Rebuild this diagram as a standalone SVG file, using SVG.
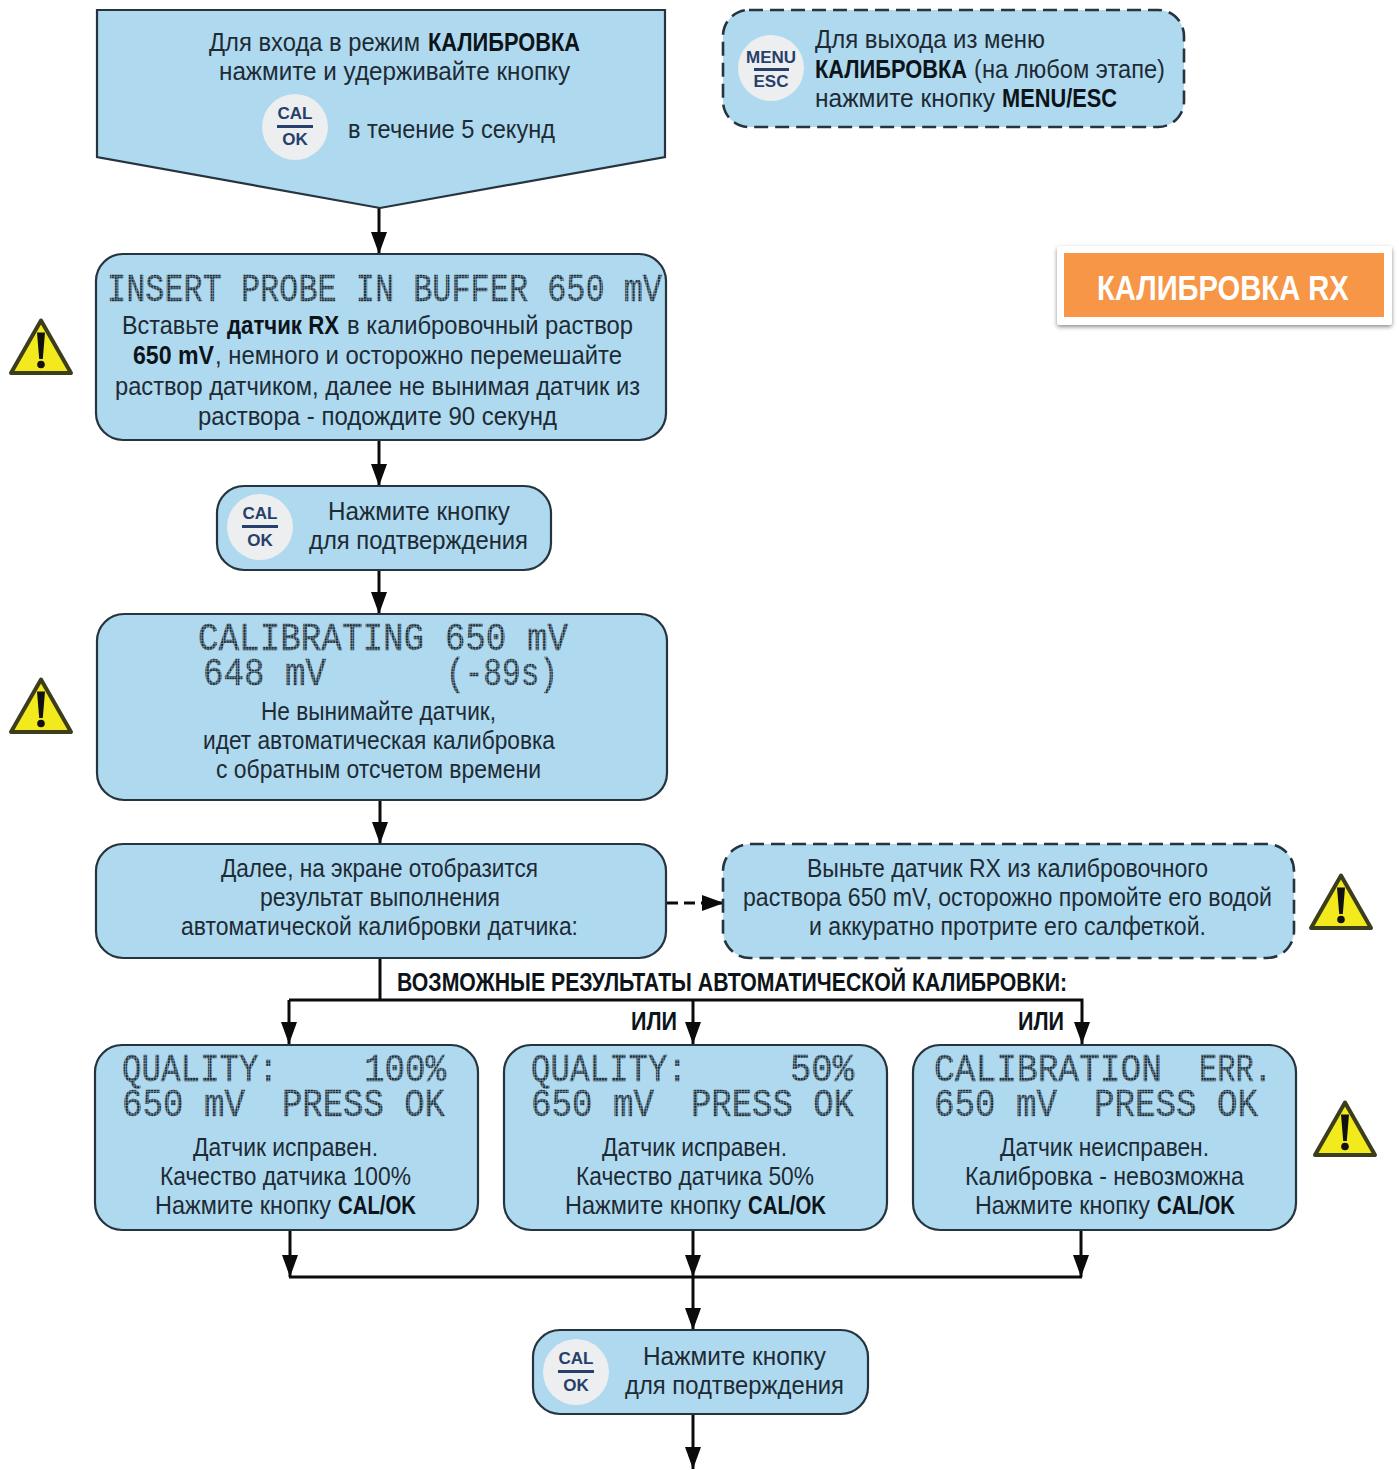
<svg xmlns="http://www.w3.org/2000/svg" width="1399" height="1470" viewBox="0 0 1399 1470">
<defs>
<style>
.n{fill:#afd9ef;stroke:#25343f;stroke-width:2.2}
.d{fill:#afd9ef;stroke:#25343f;stroke-width:2.6;stroke-dasharray:14 7}
text{font-family:"Liberation Sans",Arial,sans-serif;font-size:26px;fill:#1d2b35;white-space:pre}
.b{font-weight:700;fill:#0d1419}
.lcd{font-family:"Liberation Mono","Courier New",monospace;font-size:38px;fill:url(#dots);stroke:url(#dots);stroke-width:.4}
.btn{fill:#eceeef}
.cal{font-size:17px;font-weight:700;fill:#26406b;text-anchor:middle}
.c{fill:none;stroke:#0b0b0b;stroke-width:3}
</style>
<pattern id="dots" width="2.8" height="2.8" patternUnits="userSpaceOnUse"><rect width="2.8" height="2.8" fill="#7e9bab"/><rect width="2.1" height="2.1" fill="#1b2a34"/></pattern>
<marker id="ahv" markerWidth="22" markerHeight="16" refX="22" refY="8" orient="auto" markerUnits="userSpaceOnUse" viewBox="0 0 22 16"><path d="M0 0L22 8L0 16z" fill="#0b0b0b"/></marker>
<g id="warn"><path d="M32 2.500L62 55H2Z" fill="#f2ea1c" stroke="#3c3d1a" stroke-width="4" stroke-linejoin="round"/><path d="M28 14.500H36L33.800 41H30.200Z" fill="#111"/><circle cx="32" cy="46.500" r="3.800" fill="#111"/></g>
<filter id="sh" x="-5%" y="-10%" width="110%" height="125%"><feDropShadow dx="0" dy="2" stdDeviation="2" flood-color="#000" flood-opacity=".45"/></filter>
</defs>
<rect width="1399" height="1470" fill="#fff"/>
<g id="connectors">
<path class="c" d="M379 208V254" marker-end="url(#ahv)"/>
<path class="c" d="M379 440V486" marker-end="url(#ahv)"/>
<path class="c" d="M379 570V614" marker-end="url(#ahv)"/>
<path class="c" d="M380 800V844" marker-end="url(#ahv)"/>
<path class="c" d="M667 903H724" stroke-dasharray="11 6" marker-end="url(#ahv)"/>
<path class="c" d="M380 958V1000"/>
<path class="c" d="M289 1000V1044" marker-end="url(#ahv)"/>
<path class="c" d="M289 1000H1082V1044" marker-end="url(#ahv)"/>
<path class="c" d="M693 1000V1044" marker-end="url(#ahv)"/>
<path class="c" d="M290 1230V1277" marker-end="url(#ahv)"/>
<path class="c" d="M693 1230V1277" marker-end="url(#ahv)"/>
<path class="c" d="M1081 1230V1277" marker-end="url(#ahv)"/>
<path class="c" d="M289 1277H1082"/>
<path class="c" d="M693 1277V1330" marker-end="url(#ahv)"/>
<path class="c" d="M693 1414V1469" marker-end="url(#ahv)"/>
</g>
<g id="start">
<path class="n" d="M97 10H665V157L380 208L97 157Z"/>
<text x="209" y="51" textLength="211" lengthAdjust="spacingAndGlyphs">Для входа в режим</text>
<text class="b" x="428" y="51" textLength="152" lengthAdjust="spacingAndGlyphs">КАЛИБРОВКА</text>
<text x="219" y="80" textLength="351" lengthAdjust="spacingAndGlyphs">нажмите и удерживайте кнопку</text>
<circle class="btn" cx="295" cy="127" r="33"/>
<text class="cal" x="295" y="119">CAL</text><rect x="277" y="125" width="36" height="3" fill="#26406b"/><text class="cal" x="295" y="145">OK</text>
<text x="348" y="138" textLength="207" lengthAdjust="spacingAndGlyphs">в течение 5 секунд</text>
</g>
<g id="exit">
<rect class="d" x="723" y="10" width="461" height="117" rx="26"/>
<circle class="btn" cx="771" cy="68" r="33"/>
<text class="cal" x="771" y="63">MENU</text><rect x="754" y="68" width="35" height="3" fill="#26406b"/><text class="cal" x="771" y="87">ESC</text>
<text x="815" y="48" textLength="230" lengthAdjust="spacingAndGlyphs">Для выхода из меню</text>
<text class="b" x="815" y="78" textLength="152" lengthAdjust="spacingAndGlyphs">КАЛИБРОВКА</text>
<text x="974" y="78" textLength="191" lengthAdjust="spacingAndGlyphs">(на любом этапе)</text>
<text x="815" y="107" textLength="180" lengthAdjust="spacingAndGlyphs">нажмите кнопку</text>
<text class="b" x="1002" y="107" textLength="115" lengthAdjust="spacingAndGlyphs">MENU/ESC</text>
</g>
<g id="title">
<rect x="1057" y="246" width="335" height="79" rx="3" fill="#fff" filter="url(#sh)"/>
<rect x="1064" y="253" width="320" height="64" fill="#f79646"/>
<text transform="translate(1097 300) scale(.81 1)" style="font-size:36px;font-weight:700;fill:#fff">КАЛИБРОВКА RX</text>
</g>
<g id="insert">
<rect class="n" x="96" y="254" width="570" height="186" rx="27"/>
<text class="lcd" x="107" y="301" textLength="555" lengthAdjust="spacingAndGlyphs">INSERT PROBE IN BUFFER 650 mV</text>
<text x="122" y="334" textLength="97" lengthAdjust="spacingAndGlyphs">Вставьте</text>
<text class="b" x="227" y="334" textLength="112" lengthAdjust="spacingAndGlyphs">датчик RX</text>
<text x="347" y="334" textLength="286" lengthAdjust="spacingAndGlyphs">в калибровочный раствор</text>
<text class="b" x="133" y="364" textLength="81" lengthAdjust="spacingAndGlyphs">650 mV</text>
<text x="215" y="364" textLength="407" lengthAdjust="spacingAndGlyphs">, немного и осторожно перемешайте</text>
<text x="115" y="395" textLength="525" lengthAdjust="spacingAndGlyphs">раствор датчиком, далее не вынимая датчик из</text>
<text x="198" y="425" textLength="359" lengthAdjust="spacingAndGlyphs">раствора - подождите 90 секунд</text>
</g>
<g id="confirm1">
<rect class="n" x="217" y="486" width="334" height="84" rx="27"/>
<circle class="btn" cx="260" cy="527" r="33"/>
<text class="cal" x="260" y="519">CAL</text><rect x="242" y="525" width="36" height="3" fill="#26406b"/><text class="cal" x="260" y="546">OK</text>
<text x="328" y="520" textLength="182" lengthAdjust="spacingAndGlyphs">Нажмите кнопку</text>
<text x="309" y="549" textLength="219" lengthAdjust="spacingAndGlyphs">для подтверждения</text>
</g>
<g id="calibrating">
<rect class="n" x="97" y="614" width="570" height="186" rx="27"/>
<text class="lcd" x="198" y="650" textLength="370" lengthAdjust="spacingAndGlyphs">CALIBRATING 650 mV</text>
<text class="lcd" x="203" y="685" textLength="123" lengthAdjust="spacingAndGlyphs">648 mV</text>
<text class="lcd" x="446" y="685" textLength="112" lengthAdjust="spacingAndGlyphs">(-89s)</text>
<text x="261" y="720" textLength="235" lengthAdjust="spacingAndGlyphs">Не вынимайте датчик,</text>
<text x="203" y="749" textLength="352" lengthAdjust="spacingAndGlyphs">идет автоматическая калибровка</text>
<text x="216" y="778" textLength="325" lengthAdjust="spacingAndGlyphs">с обратным отсчетом времени</text>
</g>
<g id="result">
<rect class="n" x="96" y="844" width="570" height="114" rx="27"/>
<text x="221" y="877" textLength="317" lengthAdjust="spacingAndGlyphs">Далее, на экране отобразится</text>
<text x="260" y="906" textLength="240" lengthAdjust="spacingAndGlyphs">результат выполнения</text>
<text x="181" y="935" textLength="397" lengthAdjust="spacingAndGlyphs">автоматической калибровки датчика:</text>
</g>
<g id="rinse">
<rect class="d" x="723" y="844" width="571" height="114" rx="27"/>
<text x="807" y="877" textLength="401" lengthAdjust="spacingAndGlyphs">Выньте датчик RX из калибровочного</text>
<text x="743" y="906" textLength="529" lengthAdjust="spacingAndGlyphs">раствора 650 mV, осторожно промойте его водой</text>
<text x="809" y="935" textLength="397" lengthAdjust="spacingAndGlyphs">и аккуратно протрите его салфеткой.</text>
</g>
<g id="labels">
<text class="b" x="397" y="991" textLength="670" lengthAdjust="spacingAndGlyphs">ВОЗМОЖНЫЕ РЕЗУЛЬТАТЫ АВТОМАТИЧЕСКОЙ КАЛИБРОВКИ:</text>
<text class="b" x="631" y="1030" textLength="46" lengthAdjust="spacingAndGlyphs">ИЛИ</text>
<text class="b" x="1018" y="1030" textLength="46" lengthAdjust="spacingAndGlyphs">ИЛИ</text>
</g>
<g id="q100">
<rect class="n" x="95" y="1045" width="383" height="185" rx="27"/>
<text class="lcd" x="122" y="1081" textLength="156" lengthAdjust="spacingAndGlyphs">QUALITY:</text>
<text class="lcd" x="364" y="1081" textLength="82" lengthAdjust="spacingAndGlyphs">100%</text>
<text class="lcd" x="122" y="1116" textLength="123" lengthAdjust="spacingAndGlyphs">650 mV</text>
<text class="lcd" x="282" y="1116" textLength="163" lengthAdjust="spacingAndGlyphs">PRESS OK</text>
<text x="193" y="1156" textLength="185" lengthAdjust="spacingAndGlyphs">Датчик исправен.</text>
<text x="160" y="1185" textLength="251" lengthAdjust="spacingAndGlyphs">Качество датчика 100%</text>
<text x="155" y="1214" textLength="176" lengthAdjust="spacingAndGlyphs">Нажмите кнопку</text>
<text class="b" x="338" y="1214" textLength="78" lengthAdjust="spacingAndGlyphs">CAL/OK</text>
</g>
<g id="q50">
<rect class="n" x="504" y="1045" width="383" height="185" rx="27"/>
<text class="lcd" x="531" y="1081" textLength="156" lengthAdjust="spacingAndGlyphs">QUALITY:</text>
<text class="lcd" x="790" y="1081" textLength="64" lengthAdjust="spacingAndGlyphs">50%</text>
<text class="lcd" x="531" y="1116" textLength="123" lengthAdjust="spacingAndGlyphs">650 mV</text>
<text class="lcd" x="691" y="1116" textLength="163" lengthAdjust="spacingAndGlyphs">PRESS OK</text>
<text x="602" y="1156" textLength="185" lengthAdjust="spacingAndGlyphs">Датчик исправен.</text>
<text x="576" y="1185" textLength="238" lengthAdjust="spacingAndGlyphs">Качество датчика 50%</text>
<text x="565" y="1214" textLength="176" lengthAdjust="spacingAndGlyphs">Нажмите кнопку</text>
<text class="b" x="748" y="1214" textLength="78" lengthAdjust="spacingAndGlyphs">CAL/OK</text>
</g>
<g id="qerr">
<rect class="n" x="913" y="1045" width="383" height="185" rx="27"/>
<text class="lcd" x="934" y="1081" textLength="228" lengthAdjust="spacingAndGlyphs">CALIBRATION</text>
<text class="lcd" x="1199" y="1081" textLength="73" lengthAdjust="spacingAndGlyphs">ERR.</text>
<text class="lcd" x="934" y="1116" textLength="123" lengthAdjust="spacingAndGlyphs">650 mV</text>
<text class="lcd" x="1094" y="1116" textLength="164" lengthAdjust="spacingAndGlyphs">PRESS OK</text>
<text x="1000" y="1156" textLength="209" lengthAdjust="spacingAndGlyphs">Датчик неисправен.</text>
<text x="965" y="1185" textLength="279" lengthAdjust="spacingAndGlyphs">Калибровка - невозможна</text>
<text x="975" y="1214" textLength="175" lengthAdjust="spacingAndGlyphs">Нажмите кнопку</text>
<text class="b" x="1157" y="1214" textLength="78" lengthAdjust="spacingAndGlyphs">CAL/OK</text>
</g>
<g id="confirm2">
<rect class="n" x="533" y="1330" width="335" height="84" rx="27"/>
<circle class="btn" cx="576" cy="1372" r="33"/>
<text class="cal" x="576" y="1364">CAL</text><rect x="558" y="1370" width="36" height="3" fill="#26406b"/><text class="cal" x="576" y="1391">OK</text>
<text x="643" y="1365" textLength="183" lengthAdjust="spacingAndGlyphs">Нажмите кнопку</text>
<text x="625" y="1394" textLength="219" lengthAdjust="spacingAndGlyphs">для подтверждения</text>
</g>
<g id="warnings">
<use href="#warn" x="9" y="318"/>
<use href="#warn" x="9" y="677"/>
<use href="#warn" x="1309" y="873"/>
<use href="#warn" x="1313" y="1100"/>
</g>
</svg>
